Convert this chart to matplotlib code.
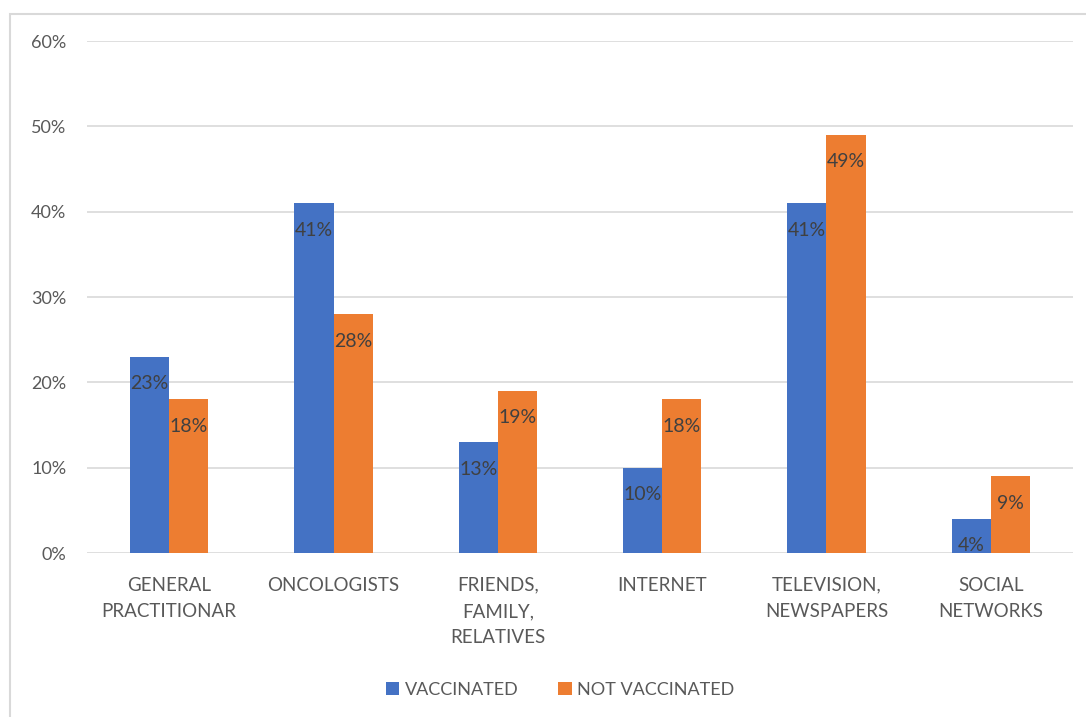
import matplotlib
matplotlib.use("Agg")
import matplotlib.pyplot as plt
import numpy as np
from matplotlib.patches import Rectangle

# data
categories = ["GENERAL\nPRACTITIONAR", "ONCOLOGISTS", "FRIENDS,\nFAMILY,\nRELATIVES",
              "INTERNET", "TELEVISION,\nNEWSPAPERS", "SOCIAL\nNETWORKS"]
vaccinated = [23, 41, 13, 10, 41, 4]
not_vaccinated = [18, 28, 19, 18, 49, 9]
series_names = ["VACCINATED", "NOT VACCINATED"]
yticks = [0, 10, 20, 30, 40, 50, 60]

blue = "#4472C4"
orange = "#ED7D31"
text_col = "#595959"
label_col = "#404040"
grid_col = "#D9D9D9"

plt.rcParams['font.family'] = ['Lato', 'DejaVu Sans']

fig = plt.figure(figsize=(10.86, 7.17), dpi=100)
ax = fig.add_axes([87 / 1086, 1 - 553 / 717, (1073 - 87) / 1086, (553 - 41) / 717])

# chart border (top and left visible, the rest is cropped in the reference)
fig.patches.append(Rectangle((10 / 1086, -0.1), 1.2, 1.1 - 14 / 717, transform=fig.transFigure,
                             fill=False, edgecolor=grid_col, linewidth=1.5))

x = np.arange(len(categories))
w = 0.238
b1 = ax.bar(x - w / 2, vaccinated, w, color=blue, label=series_names[0], zorder=2)
b2 = ax.bar(x + w / 2, not_vaccinated, w, color=orange, label=series_names[1], zorder=2)

for bars, vals in [(b1, vaccinated), (b2, not_vaccinated)]:
    for rect, v in zip(bars, vals):
        ax.annotate("{}%".format(v), (rect.get_x() + rect.get_width() / 2, v),
                    xytext=(0, -27), textcoords="offset pixels",
                    ha="center", va="center", fontsize=14, color=label_col, zorder=3)

ax.set_xlim(-0.5, len(categories) - 0.5)
ax.set_ylim(0, 60)
ax.set_yticks(yticks)
ax.set_yticklabels(["{}%".format(t) for t in yticks])
ax.set_xticks(x)
ax.set_xticklabels(categories, linespacing=1.67)
ax.tick_params(axis="y", length=0, pad=15, labelsize=13, labelcolor=text_col)
ax.tick_params(axis="x", length=0, pad=17, labelsize=13.5, labelcolor=text_col)
ax.grid(axis="y", color=grid_col, linewidth=1.2, zorder=0)
for s in ax.spines.values():
    s.set_visible(False)

leg = fig.legend(handles=[b1, b2], labels=series_names, loc="center",
                 bbox_to_anchor=(560 / 1086, 1 - 690 / 717), ncol=2, frameon=False,
                 fontsize=13, handlelength=0.75, handleheight=0.75, handletextpad=0.3,
                 columnspacing=2.2)
for t in leg.get_texts():
    t.set_color(text_col)

fig.savefig("out.png", dpi=100)
